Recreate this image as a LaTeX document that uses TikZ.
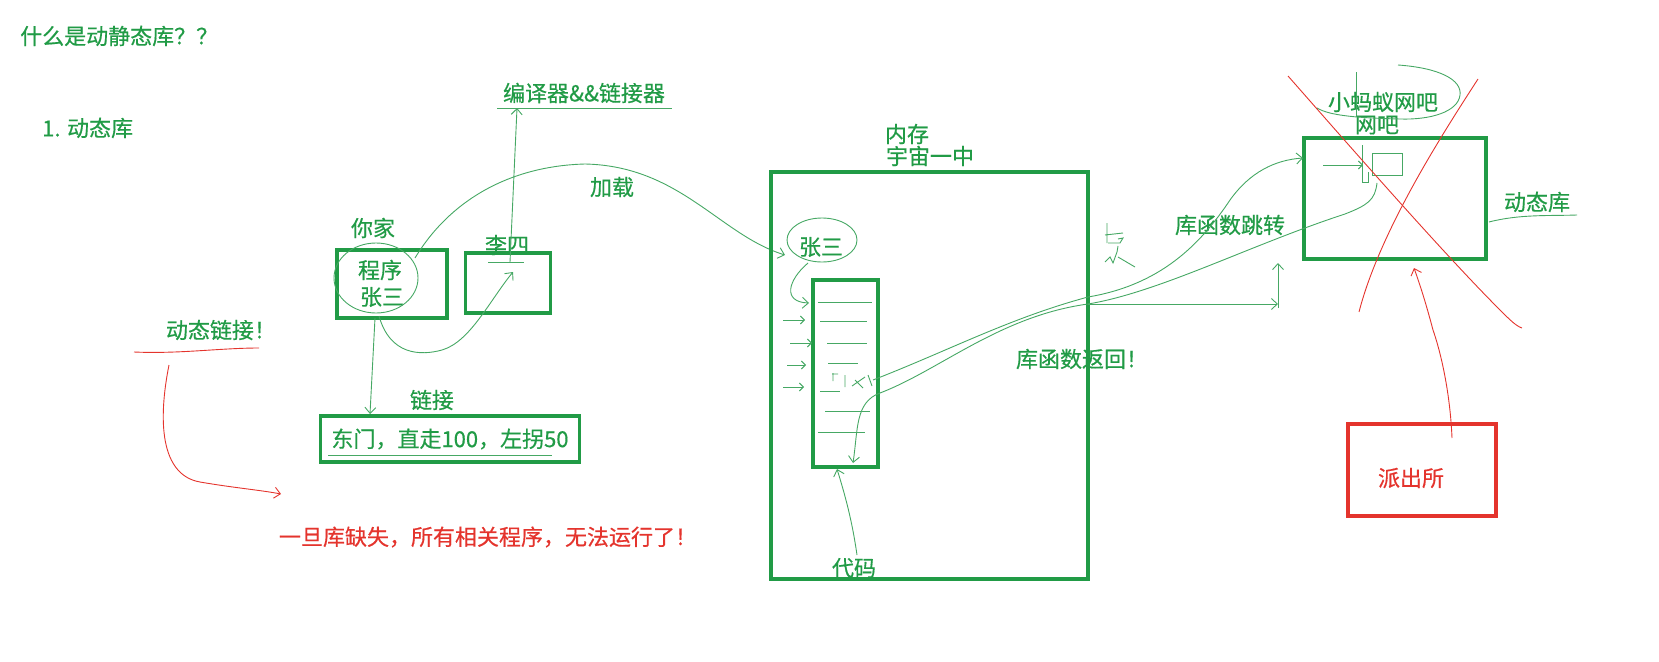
\documentclass[tikz,border=0pt]{standalone}
\usepackage{fontspec}
\setmainfont{Noto Sans CJK SC}[FakeBold=0.5]
\usetikzlibrary{arrows.meta}

\definecolor{pen}{RGB}{33,155,70}
\definecolor{penlight}{RGB}{70,168,100}
\definecolor{redpen}{RGB}{228,52,45}

\tikzset{
  word/.style={inner sep=0pt, text=pen, font=\fontsize{22}{22}\selectfont},
  alarm/.style={word, text=redpen},
  frame/.style={draw=pen, line width=3.5pt, inner sep=0pt},
  ink/.style={draw=penlight, line width=0.9pt},
  redink/.style={draw=redpen, line width=0.9pt},
  barb/.style={-{Straight Barb[length=6pt,width=11pt]}},
}

\begin{document}
\begin{tikzpicture}[x=1pt, y=-1pt]
  \useasboundingbox (0,0) rectangle (1659,661);

  \node[word, anchor=west] (title) at (20,36) {什么是动静态库？？};
  \node[word, anchor=west] (dyn) at (42,128) {1. 动态库};

  \node[word] (tool) at (584,93) {编译器\&\&链接器};
  \draw[ink] (497,108) -- (672,108);
  \coordinate (toolin) at (517,108);

  \node[word] (home) at (373,228) {你家};
  \node[frame, minimum width=110pt, minimum height=68pt] (prog) at (392,284) {};
  \node[word] (progname) at (380,270) {程序};
  \node[word] (zs) at (382,297) {张三};
  \draw[ink] (376,278) ellipse [x radius=42, y radius=35];

  \node[frame, minimum width=85pt, minimum height=60pt] (li) at (508,283) {};
  \node[word] (liname) at (507,245) {李四};
  \draw[ink] (488,262) -- (524,262);
  \coordinate (liin) at (513,272);
  \draw[ink, barb] (510,262) -- (toolin);
  \draw[ink, barb] (379,316) .. controls (390,355) and (420,356) .. (442,350)
    .. controls (470,342) and (490,300) .. (liin);

  \node[word] (load) at (612,187) {加载};
  \coordinate (zsin) at (785,255);
  \draw[ink, barb] (415,258) .. controls (450,200) and (510,166) .. (585,164)
    .. controls (680,166) and (720,235) .. (zsin);

  \node[word] (link) at (432,400) {链接};
  \node[frame, minimum width=259pt, minimum height=46pt] (addr) at (450,439) {};
  \node[word] (addrtext) at (450,439) {东门，直走100，左拐50};
  \draw[ink] (328,455) -- (552,455);
  \draw[ink, barb] (375,318) -- (370,414);

  \node[word] (dlink) at (221,330) {动态链接！};
  \draw[redink] (134,352) .. controls (180,354) and (220,348) .. (259,348);
  \node[alarm] (lost) at (488,537) {一旦库缺失，所有相关程序，无法运行了！};
  \coordinate (red0) at (169,365);
  \coordinate (red1) at (281,494);
  \draw[redink, barb] (red0) .. controls (158,420) and (160,475) .. (200,482)
    .. controls (235,488) and (260,490) .. (red1);

  \node[frame, minimum width=317pt, minimum height=407pt] (mem) at (929.5,375.5) {};
  \node[word] (memname) at (907,134) {内存};
  \node[word] (school) at (930,156) {宇宙一中};
  \node[word] (zs2) at (821,247) {张三};
  \draw[ink] (822,240) ellipse [x radius=35, y radius=22];

  \node[frame, minimum width=65pt, minimum height=187pt] (code) at (845.5,373.5) {};
  \foreach \y/\a/\b in {302/818/872, 321/820/867, 343/827/867, 363/828/858,
                        391/820/840, 411/825/870, 432/818/865}
    \draw[ink] (\a,\y) -- (\b,\y);
  \draw[ink] (833,373) -- (833,381) (832,374) -- (838,374) (845,375) -- (845,387)
    (852,386) -- (865,377) (855,380) -- (863,388) (868,375) -- (872,386);
  \draw[ink, barb] (808,263) .. controls (788,280) and (782,302) .. (809,303);
  \foreach \y/\a/\b in {320/783/805, 343/790/812, 365/787/806, 387/783/804}
    \draw[ink, -{Straight Barb[length=4pt,width=8pt]}] (\a,\y) -- (\b,\y);

  \node[word] (codename) at (854,568) {代码};
  \draw[ink, barb] (857,555) .. controls (852,520) and (845,495) .. (837,469);

  \node[frame, minimum width=182pt, minimum height=121pt] (lib) at (1395,198.5) {};
  \node[word] (libname) at (1537,202) {动态库};
  \draw[ink] (1489,222) .. controls (1520,214) and (1550,216) .. (1577,215);
  \node[word] (bar) at (1383,102) {小蚂蚁网吧};
  \node[word] (bar2) at (1377,125) {网吧};
  \draw[ink] (1398,65) .. controls (1440,68) and (1462,80) .. (1460,95)
    .. controls (1458,112) and (1430,120) .. (1400,119)
    .. controls (1360,118) and (1330,116) .. (1317,108);
  \draw[ink] (1356,72) -- (1356,117);
  \node[draw=penlight, line width=0.9pt, minimum width=30pt, minimum height=22pt, inner sep=0pt] (func) at (1387,164) {};
  \draw[ink, -{Straight Barb[length=4pt,width=8pt]}] (1323,165) -- (1363,165);
  \draw[ink] (1362,145) -- (1362,182) -- (1368,182) -- (1368,172);

  \node[word] (jump) at (1230,225) {库函数跳转};
  \node[word] (back) at (1082,359) {库函数返回！};
  \coordinate (jumpout) at (873,380);
  \coordinate (jumpin) at (1303,158);
  \draw[ink, barb] (jumpout) .. controls (950,350) and (1010,318) .. (1088,297)
    .. controls (1160,285) and (1200,245) .. (1230,200)
    .. controls (1250,172) and (1275,160) .. (jumpin);
  \coordinate (backout) at (1377,183);
  \coordinate (backin) at (853,463);
  \draw[ink, barb] (backout) .. controls (1375,200) and (1368,205) .. (1345,214)
    .. controls (1250,245) and (1160,292) .. (1088,304)
    .. controls (1000,316) and (940,370) .. (880,393)
    .. controls (855,402) and (858,430) .. (backin);
  \coordinate (exit) at (1088,304);
  \coordinate (turn) at (1278,304);
  \draw[ink, barb] (exit) -- (turn);
  \draw[ink, barb] (1278,308) -- (1278,263);

  \draw[ink] (1107,223) -- (1107,243) (1105,235) -- (1123,233)
    (1108,243) -- (1120,243) -- (1123,238) -- (1118,239)
    (1105,262) -- (1110,257) -- (1113,263) -- (1117,252) -- (1118,246)
    (1118,257) -- (1135,267);

  \node[draw=redpen, line width=3.5pt, minimum width=148pt, minimum height=92pt] (police) at (1422,470) {};
  \node[alarm] (policename) at (1411,478) {派出所};
  \draw[redink, barb] (1452,438) .. controls (1450,390) and (1440,350) .. (1433,330)
    .. controls (1425,300) and (1420,285) .. (1414,268);
  \draw[redink] (1288,76) .. controls (1340,135) and (1440,250) .. (1500,310)
    .. controls (1510,320) and (1516,326) .. (1522,328);
  \draw[redink] (1478,79) .. controls (1445,130) and (1380,230) .. (1359,312);
\end{tikzpicture}
\end{document}
